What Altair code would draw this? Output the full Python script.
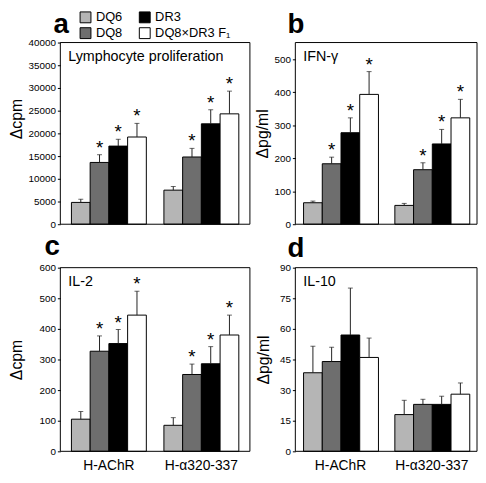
import altair as alt
import pandas as pd

groups = ["H-AChR", "H-α320-337"]
strains = ["DQ6", "DQ8", "DR3", "DQ8×DR3 F₁"]
strain_colors = ["#b5b5b5", "#6e6e6e", "#000000", "#ffffff"]

# values listed group by group: H-AChR (DQ6, DQ8, DR3, F1), then H-a320-337
prolif_mean = [4800, 13600, 17200, 19200, 7500, 14800, 22100, 24300]
prolif_err = [700, 1700, 1500, 3000, 800, 1900, 3100, 5000]
prolif_star = [False, True, True, True, False, True, True, True]

ifng_mean = [65, 183, 277, 393, 57, 165, 243, 322]
ifng_err = [5, 20, 45, 69, 6, 21, 44, 56]
ifng_star = [False, True, True, True, False, True, True, True]

il2_mean = [105, 327, 352, 445, 85, 251, 286, 380]
il2_err = [25, 50, 46, 78, 25, 34, 56, 65]
il2_star = [False, True, True, True, False, True, True, True]

il10_mean = [38.5, 44, 57, 46, 18, 23, 23, 28]
il10_err = [13, 7, 23, 9.5, 7, 2.5, 4, 5.5]
il10_star = [False] * 8

FONT = "Liberation Sans"


def make_df(mean, err, star):
    rows = []
    i = 0
    for g in groups:
        for s in strains:
            rows.append({"group": g, "strain": s, "mean": mean[i],
                         "top": mean[i] + err[i], "star": star[i]})
            i += 1
    return pd.DataFrame(rows)


def panel(mean, err, star, ymax, ystep, ytitle, inner, letter, letter_x,
          letter_y, w, h, show_x, with_legend, title_pad, outer_pad,
          title_y=None):
    df = make_df(mean, err, star)
    if show_x:
        xaxis = alt.Axis(title=None, ticks=False, domain=False,
                         labelAngle=0, labelFontSize=14, labelPadding=7,
                         labelColor="black", labelFont=FONT)
    else:
        xaxis = None
    x = alt.X("group:N", sort=groups, axis=xaxis,
              scale=alt.Scale(paddingInner=0.19, paddingOuter=outer_pad))
    xo = alt.XOffset("strain:N", sort=strains,
                     scale=alt.Scale(paddingInner=0, paddingOuter=0))
    yargs = dict(values=list(range(0, ymax + 1, ystep)), format="d",
                 labelOverlap=False, tickSize=3,
                 tickColor="black", labelFontSize=10, labelPadding=2,
                 labelColor="black", labelFont=FONT, domain=False,
                 grid=False, title=ytitle, titleFontSize=16,
                 titleFontWeight="normal", titleColor="black",
                 titleFont=FONT, titlePadding=title_pad)
    if title_y is not None:
        yargs["titleY"] = title_y
    yscale = alt.Scale(domain=[0, ymax], nice=False)
    yaxis = alt.Axis(**yargs)

    if with_legend:
        leg = alt.Legend(orient="none", legendX=19, legendY=-32, columns=2,
                         title=None, symbolType="square", symbolSize=121,
                         symbolStrokeColor="black", symbolStrokeWidth=1,
                         symbolOpacity=1, labelFontSize=13, labelFont=FONT,
                         labelColor="black", labelOffset=4,
                         columnPadding=15, rowPadding=1, padding=0)
    else:
        leg = None
    color = alt.Color("strain:N",
                      scale=alt.Scale(domain=strains,
                                      range=strain_colors),
                      legend=leg)

    base = alt.Chart(df)
    bars = base.mark_bar(stroke="black", strokeWidth=1, opacity=1).encode(
        x=x, xOffset=xo, y=alt.Y("mean:Q", scale=yscale, axis=yaxis),
        color=color)
    rule = base.mark_rule(color="#222222", strokeWidth=1).encode(
        x=x, xOffset=xo, y=alt.Y("mean:Q", scale=yscale, axis=yaxis),
        y2="top:Q")
    cap = base.mark_tick(orient="horizontal", size=5, thickness=1,
                         color="#222222").encode(
        x=x, xOffset=xo, y=alt.Y("top:Q", scale=yscale, axis=yaxis))
    stars = base.transform_filter("datum.star").mark_text(
        text="*", fontSize=19, font=FONT, baseline="alphabetic", dy=-1,
        color="black").encode(
        x=x, xOffset=xo, y=alt.Y("top:Q", scale=yscale, axis=yaxis))
    frame = alt.Chart(pd.DataFrame({"f": [0]})).mark_rect(
        fillOpacity=0, stroke="black", strokeWidth=1).encode(
        x=alt.value(0), x2=alt.value("width"),
        y=alt.value(0), y2=alt.value("height"))
    lab = alt.Chart(pd.DataFrame({"t": [inner]})).mark_text(
        align="left", baseline="alphabetic", fontSize=14.5, font=FONT,
        color="black").encode(text="t:N", x=alt.value(8), y=alt.value(19))
    let = alt.Chart(pd.DataFrame({"t": [letter]})).mark_text(
        align="left", baseline="alphabetic", fontSize=28, fontWeight="bold",
        font=FONT, color="black").encode(
        text="t:N", x=alt.value(letter_x), y=alt.value(letter_y))
    return alt.layer(bars, rule, cap, stars, frame, lab, let).properties(
        width=w, height=h)


pa = panel(prolif_mean, prolif_err, prolif_star, 40000, 5000, "Δcpm",
           "Lymphocyte proliferation", "a", -7, -10, 192, 184, False, True,
           4, 0.12, title_y=77)
pb = panel(ifng_mean, ifng_err, ifng_star, 550, 100, "Δpg/ml", "IFN-γ",
           "b", -8, -10, 184, 184, False, False, 3, 0.09)
pc = panel(il2_mean, il2_err, il2_star, 600, 100, "Δcpm", "IL-2", "c",
           -16, -13, 192, 186, True, False, 15, 0.12)
pd_ = panel(il10_mean, il10_err, il10_star, 90, 15, "Δpg/ml", "IL-10", "d",
            -8, -11, 184, 186, True, False, 8, 0.09)

chart = alt.concat(pa, pb, pc, pd_, columns=2,
                   spacing={"row": 44, "column": 46}, bounds="flush"
                   ).resolve_scale(color="independent").properties(
    padding={"left": 0, "top": 0, "right": 0, "bottom": 0},
    background="white"
).configure_view(strokeWidth=0)

chart.save("out.html", embed_options={"renderer": "svg", "actions": False})
